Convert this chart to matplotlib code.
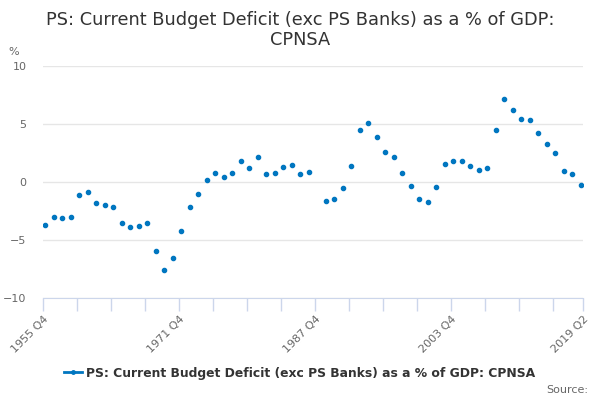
import numpy as np
import matplotlib
matplotlib.use("Agg")
import matplotlib.pyplot as plt

# annual readings (Q1 of each year), 1988 has no value
years = list(range(1956, 2020))
values = [
    -3.75, -3.05, -3.17, -3.05, -1.18, -0.86, -1.87, -2.05, -2.16, -3.54,
    -3.95, -3.86, -3.54, -5.94, -7.61, -6.63, -4.27, -2.16, -1.07, 0.12,
    0.72, 0.43, 0.72, 1.82, 1.21, 2.10, 0.63, 0.72, 1.24, 1.41,
    0.63, 0.81, np.nan, -1.67, -1.47, -0.58, 1.33, 4.50, 5.10, 3.89,
    2.59, 2.10, 0.72, -0.37, -1.47, -1.79, -0.49, 1.50, 1.82, 1.82,
    1.33, 1.01, 1.21, 4.50, 7.18, 6.20, 5.39, 5.30, 4.21, 3.23,
    2.51, 0.92, 0.63, -0.29,
]
tick_labels = ["1955 Q4", "1971 Q4", "1987 Q4", "2003 Q4", "2019 Q2"]
series_name = "PS: Current Budget Deficit (exc PS Banks) as a % of GDP: CPNSA"


def qidx(year, q):
    # quarters counted from 1955 Q4
    return (year - 1955) * 4 + (q - 4)


x = [qidx(y, 1) for y in years]
x_end = qidx(2019, 2)

fig = plt.figure(figsize=(6, 4), dpi=100)
ax = fig.add_axes([43 / 600, 1 - 297.5 / 400, 540 / 600, 231.5 / 400])

blue = "#0076c0"
ax.plot(x, values, linestyle="none", marker="o", markersize=3.0, color=blue)

ax.set_xlim(0, x_end)
ax.set_ylim(-10, 10)
ax.set_yticks([-10, -5, 0, 5, 10])
ax.yaxis.grid(True, color="#e6e6e6", linewidth=1)
ax.set_axisbelow(True)

minor = list(range(0, 241, 16)) + [x_end]
ax.set_xticks(minor)
lab_pos = [0, 64, 128, 192, x_end]
ax.set_xticklabels([tick_labels[lab_pos.index(m)] if m in lab_pos else "" for m in minor],
                   rotation=45, ha="right", rotation_mode="anchor")

for s in ["top", "right", "left"]:
    ax.spines[s].set_visible(False)
ax.spines["bottom"].set_color("#ccd6eb")
ax.tick_params(axis="x", colors="#ccd6eb", length=9, width=1, labelcolor="#666666",
               labelsize=8, pad=3)
ax.tick_params(axis="y", length=0, labelcolor="#666666", labelsize=8, pad=12)

fig.text(0.5, 0.972, "PS: Current Budget Deficit (exc PS Banks) as a % of GDP:\nCPNSA",
         ha="center", va="top", fontsize=12.8, color="#333333", linespacing=1.12)
fig.text(14 / 600, 1 - 52 / 400, "%", ha="center", va="center", fontsize=8, color="#666666")

leg = fig.legend([plt.Line2D([], [], color=blue, marker="o", markersize=2.5, linewidth=2)],
                 [series_name], loc="center", bbox_to_anchor=(0.5, 1 - 373 / 400),
                 frameon=False, fontsize=8.9, handlelength=1.4, handletextpad=0.4)
for t in leg.get_texts():
    t.set_fontweight("bold")
    t.set_color("#333333")

fig.text(588 / 600, 1 - 390 / 400, "Source:", ha="right", va="center", fontsize=8, color="#666666")

fig.savefig("out.png", dpi=100)
